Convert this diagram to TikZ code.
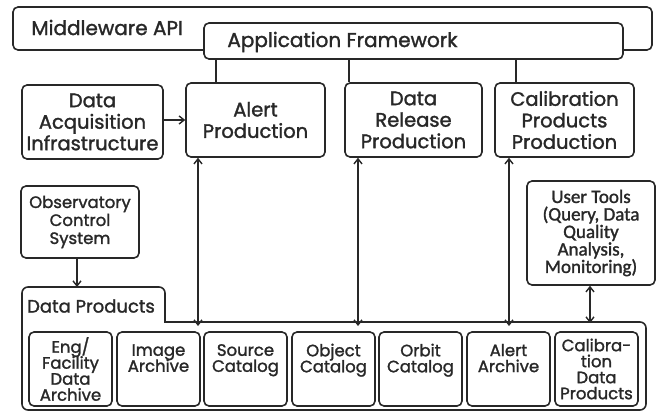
\documentclass[tikz,border=0pt]{standalone}
\usepackage{fontspec}
\setmainfont{Poppins}[BoldFont=Poppins, BoldFeatures={FakeBold=1.5}]
\newfontfamily\toolsfont{Carlito}[BoldFont=Carlito, BoldFeatures={FakeBold=1.5}]
\usetikzlibrary{arrows.meta,calc,positioning}
\definecolor{inkGray}{RGB}{40,40,40}
% tight multi-line labels
\newcommand{\boxfont}[2]{\bfseries\fontsize{#1}{#2}\selectfont\lineskiplimit=-20pt}

\begin{document}
\begin{tikzpicture}[
  x=1pt, y=-1pt,
  panel/.style={draw=inkGray, line width=1.6pt, rounded corners=5pt, fill=white, inner sep=0pt, text=inkGray},
  stage/.style={panel, minimum width=139pt, minimum height=74pt, align=center, font=\boxfont{19.5}{21.5}},
  store/.style={panel, minimum width=83pt, minimum height=74pt, align=center, font=\boxfont{16.5}{16}},
  title/.style={inner sep=0pt, anchor=west, text=inkGray, font=\boxfont{20}{22}},
  link/.style={draw=inkGray, line width=1.6pt},
  arrow/.style={link, -{Straight Barb[length=5pt, width=8pt, line width=1.4pt]}},
  dblarrow/.style={link, {Straight Barb[length=5pt, width=8pt, line width=1.4pt]}-{Straight Barb[length=5pt, width=8pt, line width=1.4pt]}}
]
  \useasboundingbox (0,0) rectangle (656,412);

  % framework layers
  \node[panel, minimum width=639pt, minimum height=43pt] (mw) at (332.5,28.5) {};
  \node[title] (mwLabel) at ([xshift=19pt, yshift=1pt]mw.west) {Middleware API};
  \node[panel, minimum width=419pt, minimum height=36pt] (af) at (413.5,41) {};
  \node[title] (afLabel) at ([xshift=24pt, yshift=-1pt]af.west) {Application Framework};

  % production stages
  \node[stage, minimum width=141pt] (daq) at (92.5,122) {Data\\Acquisition\\Infrastructure};
  \node[stage] (alert) at (255.5,120) {Alert\\Production};
  \node[stage, minimum width=137pt] (release) at (413.5,120) {Data\\Release\\Production};
  \node[stage] (calib) at (564.5,120) {Calibration\\Products\\Production};

  \node[stage, minimum width=118pt, minimum height=72pt, font=\boxfont{16.5}{18}] (obs) at (80,222) {Observatory\\Control\\System};
  \node[stage, minimum width=128pt, minimum height=104pt, font=\toolsfont\boxfont{19}{17.5}] (tools) at (591,233) {User Tools\\(Query, Data\\Quality\\Analysis,\\Monitoring)};

  % data products container with its tab
  \draw[link, rounded corners=6pt] (22,410) -- (22,287) -- (165,287) [sharp corners] -- (165,322) [rounded corners=6pt] -- (646,322) -- (646,410) -- cycle;
  \node[title, font=\boxfont{18}{20}] (dpLabel) at (27,306) {Data Products};
  \coordinate (tabTop) at (77,287);
  \coordinate (dpAlert) at (198,322);
  \coordinate (dpRelease) at (358,322);
  \coordinate (dpCalib) at (509,322);
  \coordinate (dpTools) at (590,322);

  \node[store] (eng) at (70.5,369) {Eng/\\Facility\\Data\\Archive};
  \node[store] (image) at (158.5,369) {Image\\Archive\\[6pt]};
  \node[store] (source) at (245.5,369) {Source\\Catalog\\[6pt]};
  \node[store] (object) at (333.5,369) {Object\\Catalog\\[6pt]};
  \node[store] (orbit) at (420.5,369) {Orbit\\Catalog\\[6pt]};
  \node[store] (archive) at (508.5,369) {Alert\\Archive\\[6pt]};
  \node[store] (calibdata) at (596.5,369) {Calibra-\\tion\\Data\\Products};

  % connectors
  \draw[link] (alert.north -| 216,0) -- (af.south -| 216,0);
  \draw[link] (release.north -| 349,0) -- (af.south -| 349,0);
  \draw[link] (calib.north -| 516,0) -- (af.south -| 516,0);
  \draw[arrow] (daq.east |- 0,120) -- (alert.west |- 0,120);
  \draw[arrow] (obs.south -| tabTop) -- (tabTop);
  \draw[dblarrow] (alert.south -| dpAlert) -- ([yshift=-4pt]dpAlert);
  \draw[dblarrow] (release.south -| dpRelease) -- ([yshift=-4pt]dpRelease);
  \draw[dblarrow] (calib.south -| dpCalib) -- ([yshift=-4pt]dpCalib);
  \draw[dblarrow] (tools.south -| dpTools) -- ([yshift=-1pt]dpTools);
\end{tikzpicture}
\end{document}
